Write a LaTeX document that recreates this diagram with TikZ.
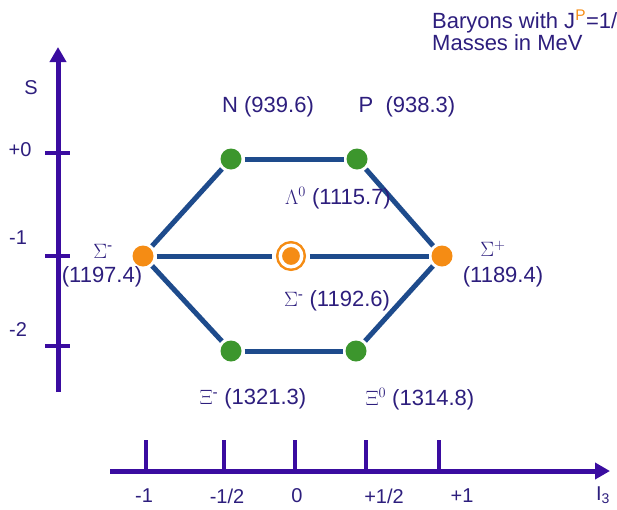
\documentclass[tikz,border=0pt]{standalone}
\usepackage{fontspec}
\setmainfont{Liberation Sans}
\usetikzlibrary{arrows.meta}

\definecolor{axiscol}{RGB}{58,12,160}
\definecolor{textcol}{RGB}{45,30,125}
\definecolor{bondcol}{RGB}{30,75,140}
\definecolor{dotgreen}{RGB}{60,150,45}
\definecolor{dotorange}{RGB}{245,140,20}

\tikzset{
  particle/.style={circle,minimum size=21pt,inner sep=0pt,outer sep=3pt},
  greendot/.style={particle,fill=dotgreen},
  orangedot/.style={particle,fill=dotorange},
  centredot/.style={circle,minimum size=21.5pt,inner sep=0pt,outer sep=8pt,
    fill=dotorange,draw=dotorange,double=white,double distance=3.5pt,line width=2.5pt},
  bond/.style={bondcol,line width=5pt},
  axisline/.style={axiscol,line width=5pt,-{Triangle[length=15pt,width=16pt]}},
  axtick/.style={axiscol,line width=4pt},
  lbl/.style={textcol,font=\fontsize{22}{25}\selectfont,inner sep=0pt},
  axlbl/.style={textcol,font=\fontsize{20}{23}\selectfont,inner sep=0pt},
}

\begin{document}
\begin{tikzpicture}[x=1pt,y=-1pt]
\useasboundingbox (0,0) rectangle (617,509);

% title
\node[lbl,anchor=base west] (title) at (432,28) {Baryons with J\textsuperscript{\color{dotorange}P}=1/};
\node[lbl,anchor=base west] (units) at (432,50) {Masses in MeV};

% strangeness axis
\coordinate (sbot) at (58,392);
\coordinate (stop) at (58,47);
\draw[axisline] (sbot) -- (stop);
\foreach \y in {153,256,346}
  \draw[axtick] (45,\y) -- (70,\y);
\node[axlbl] (S) at (31,88) {S};
\node[axlbl] (Szero) at (20,150) {+0};
\node[axlbl] (Sone) at (18,238) {-1};
\node[axlbl] (Stwo) at (18,330) {-2};

% isospin axis
\coordinate (ileft) at (110,471);
\coordinate (iright) at (610,471);
\draw[axisline] (ileft) -- (iright);
\foreach \x in {146,224,295,366,439}
  \draw[axtick] (\x,440) -- (\x,471);
\node[axlbl] (Imone) at (144,496) {-1};
\node[axlbl] (Imhalf) at (227,496) {-1/2};
\node[axlbl] (Izero) at (297,496) {0};
\node[axlbl] (Iphalf) at (384,496) {+1/2};
\node[axlbl] (Ipone) at (462,496) {+1};
\node[axlbl] (Ithree) at (603,495) {I\textsubscript{3}};

% octet
\node[greendot] (N) at (231,159) {};
\node[greendot] (P) at (357,159) {};
\node[orangedot] (Sm) at (143,256) {};
\node[centredot] (Sz) at (291,256) {};
\node[orangedot] (Sp) at (442,256) {};
\node[greendot] (Xm) at (231,351) {};
\node[greendot] (Xz) at (356,351) {};

\draw[bond] (N) -- (P);
\draw[bond] (N) -- (Sm);
\draw[bond] (P) -- (Sp);
\draw[bond] (Sm) -- (Sz);
\draw[bond] (Sz) -- (Sp);
\draw[bond] (Sm) -- (Xm);
\draw[bond] (Xm) -- (Xz);
\draw[bond] (Xz) -- (Sp);

% masses
\node[lbl] (Nlab) at (268,107) {N (939.6)};
\node[lbl] (Plab) at (407,107) {P\ \ (938.3)};
\node[lbl] (Llab) at (338,198) {$\Lambda^0$ (1115.7)};
\node[lbl] (Smlab) at (103,251) {$\Sigma$\textsuperscript{-}};
\node[lbl] (Smmass) at (102,277) {(1197.4)};
\node[lbl] (Szlab) at (337,301) {$\Sigma$\textsuperscript{-} (1192.6)};
\node[lbl] (Splab) at (493,249) {$\Sigma^+$};
\node[lbl] (Spmass) at (503,277) {(1189.4)};
\node[lbl] (Xmlab) at (253,399) {$\Xi$\textsuperscript{-} (1321.3)};
\node[lbl] (Xzlab) at (420,399) {$\Xi^0$ (1314.8)};
\end{tikzpicture}
\end{document}
